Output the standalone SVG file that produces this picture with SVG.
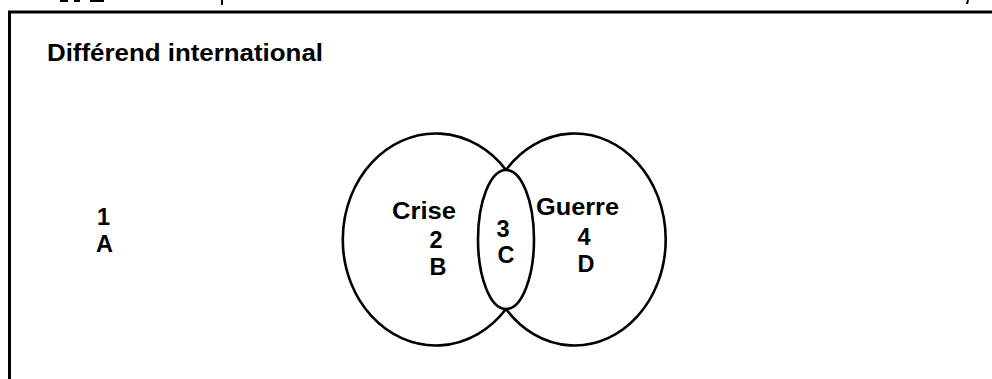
<svg xmlns="http://www.w3.org/2000/svg" width="992" height="379" viewBox="0 0 992 379">
<style>
.frame{fill:none;stroke:#000;stroke-width:3}
.ring{fill:none;stroke:#000;stroke-width:2.6}
.t{font-family:"Liberation Sans",Arial,sans-serif;font-weight:bold;fill:#000}
.lbl{font-size:23.5px}
.mid{text-anchor:middle}
.frag{stroke:#000;stroke-width:2}
</style>
<rect width="992" height="379" fill="#fff"/>
<g id="scan-fragments">
<line class="frag" x1="60" y1="1" x2="68" y2="1"/>
<line class="frag" x1="74" y1="1" x2="80" y2="1"/>
<line class="frag" x1="90" y1="1" x2="104" y2="1"/>
<line class="frag" x1="222" y1="0" x2="222" y2="5"/>
<line class="frag" x1="968" y1="0" x2="967" y2="4"/>
</g>
<g id="frame">
<path class="frame" d="M9.5 392 V12 H1000"/>
</g>
<g id="title">
<text class="t" x="47" y="61" font-size="24" textLength="276" lengthAdjust="spacingAndGlyphs">Différend international</text>
</g>
<g id="region-1">
<text class="t lbl" x="97" y="225">1</text>
<text class="t lbl" x="96" y="252">A</text>
</g>
<g id="crise">
<path class="ring" d="M506 170 A93 106 0 1 0 506 309"/>
<text class="t lbl" x="392" y="219" textLength="64" lengthAdjust="spacingAndGlyphs">Crise</text>
<text class="t lbl mid" x="436" y="248">2</text>
<text class="t lbl mid" x="438" y="275">B</text>
</g>
<g id="guerre">
<path class="ring" d="M506 170 A91 106 0 1 1 506 309"/>
<text class="t lbl" x="536" y="215" textLength="83" lengthAdjust="spacingAndGlyphs">Guerre</text>
<text class="t lbl mid" x="584" y="245">4</text>
<text class="t lbl mid" x="586" y="272">D</text>
</g>
<g id="overlap">
<ellipse class="ring" cx="506" cy="239.5" rx="28" ry="69.5"/>
<text class="t lbl mid" x="503" y="237">3</text>
<text class="t lbl mid" x="506" y="263">C</text>
</g>
</svg>
